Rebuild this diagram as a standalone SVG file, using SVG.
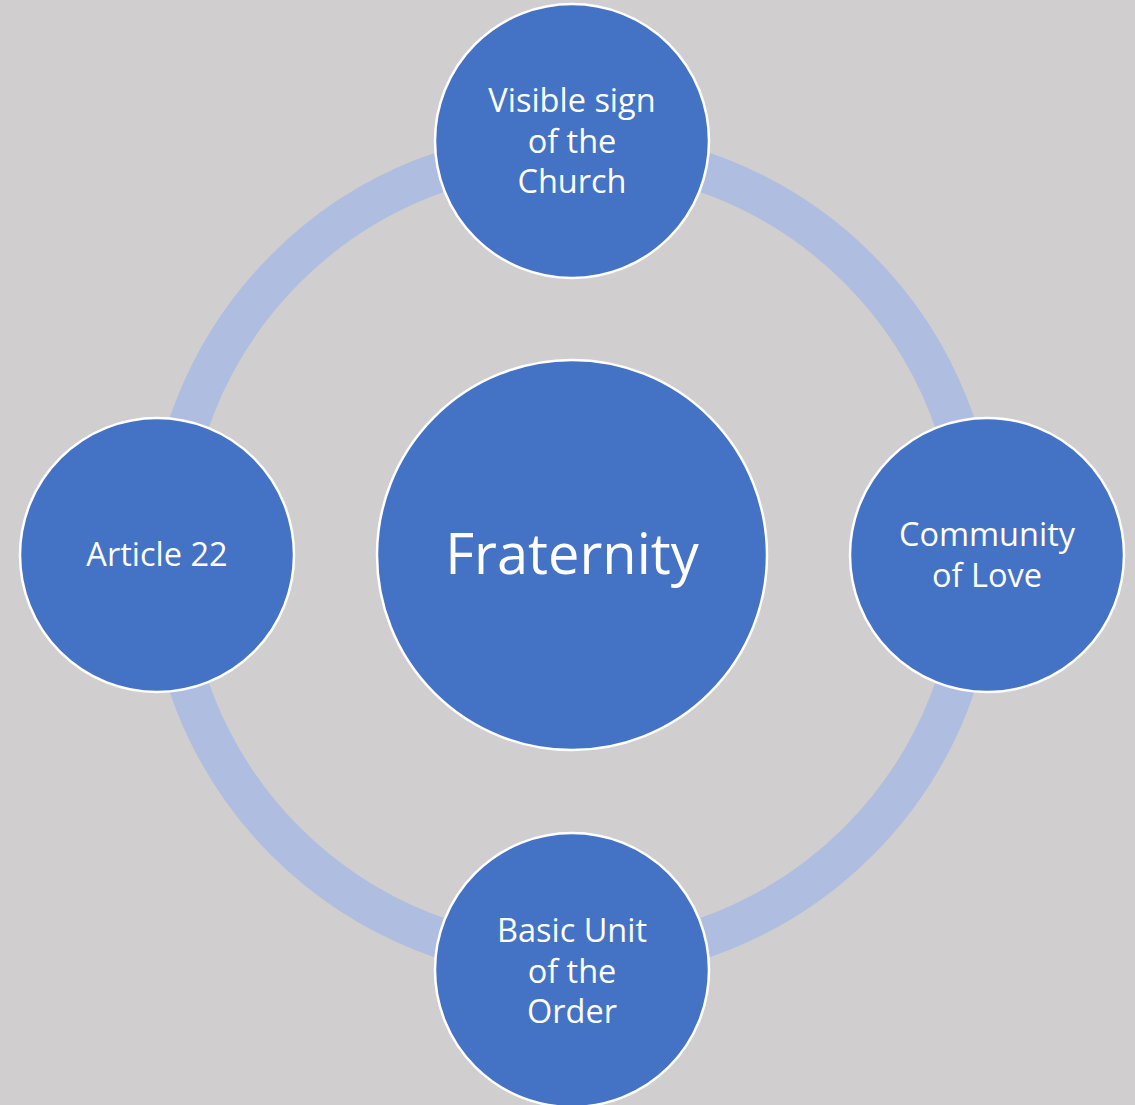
<svg xmlns="http://www.w3.org/2000/svg" width="1135" height="1105" viewBox="0 0 1135 1105">
<style>
.n{fill:#4472C4;stroke:#FFFFFF;stroke-width:2.5}
.t{fill:#FFFFFF;font-family:"Open Sans","Liberation Sans",sans-serif;font-size:32.5px;text-anchor:middle}
</style>
<rect width="1135" height="1105" fill="#D0CECE"/>
<g id="connectors">
<circle cx="572" cy="555" r="405" fill="none" stroke="#AFBDE0" stroke-width="40"/>
</g>
<g id="center">
<circle class="n" cx="572" cy="555" r="195"/>
<text class="t" x="572" y="574" style="font-size:56px">Fraternity</text>
</g>
<g id="top">
<circle class="n" cx="572" cy="141" r="137"/>
<text class="t" x="572" y="112"><tspan x="572">Visible sign</tspan><tspan x="572" dy="40.5">of the</tspan><tspan x="572" dy="40.5">Church</tspan></text>
</g>
<g id="right">
<circle class="n" cx="987" cy="555" r="137"/>
<text class="t" x="987" y="546"><tspan x="987">Community</tspan><tspan x="987" dy="40.5">of Love</tspan></text>
</g>
<g id="bottom">
<circle class="n" cx="572" cy="970" r="137"/>
<text class="t" x="572" y="942"><tspan x="572">Basic Unit</tspan><tspan x="572" dy="40.5">of the</tspan><tspan x="572" dy="40.5">Order</tspan></text>
</g>
<g id="left">
<circle class="n" cx="157" cy="555" r="137"/>
<text class="t" x="157" y="566">Article 22</text>
</g>
</svg>
